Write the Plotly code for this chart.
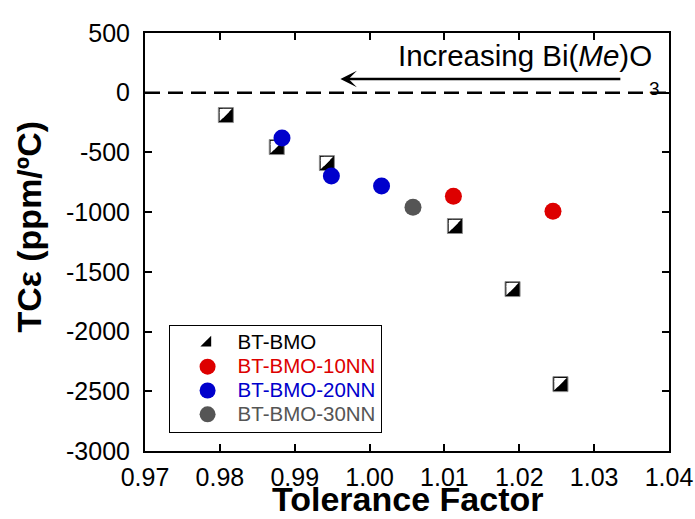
import plotly.graph_objects as go

# ---------------- data ----------------
TOL_BMO = [0.9808, 0.9876, 0.9943, 1.0114, 1.0191, 1.0255]
TCE_BMO = [-187, -455, -589, -1116, -1644, -2440]

TOL_10NN = [1.0112, 1.0245]
TCE_10NN = [-867, -993]

TOL_20NN = [0.9883, 0.9949, 1.0016]
TCE_20NN = [-379, -698, -781]

TOL_30NN = [1.0058]
TCE_30NN = [-959]

X_TICKS = [0.97, 0.98, 0.99, 1.00, 1.01, 1.02, 1.03, 1.04]
X_TICKTEXT = ["0.97", "0.98", "0.99", "1.00", "1.01", "1.02", "1.03", "1.04"]
Y_TICKS = [500, 0, -500, -1000, -1500, -2000, -2500, -3000]
Y_TICKTEXT = ["500", "0", "-500", "-1000", "-1500", "-2000", "-2500", "-3000"]

X_RANGE = [0.97, 1.04]
Y_RANGE = [-3000, 500]

ARROW_Y = 115
ARROW_TAIL_X = 1.0337
ARROW_TIP_X = 0.9961

FONT = "Liberation Sans, Arial, Helvetica, sans-serif"
RED = "#dd0000"
BLUE = "#0000cc"
GRAY = "#555555"

# ---- half-filled square marker geometry (px) ----
SQ_SIZE = 15                  # black square
H = 6.2                       # half side of the white (upper-left) half
TRI_R = H / 1.2               # plotly right-triangle "radius"
TRI_SIZE = 2 * TRI_R
TRI_SHIFT = 0.6 * TRI_R
CORNER_HALF = 0.3 * H
CORNER_SIZE = 2 * CORNER_HALF / (1.3 / 2 ** 0.5)
CORNER_SHIFT = 0.7 * H * 2 ** 0.5

fig = go.Figure()

# legend entry (black lower-right triangle); drawn first so the square hides it
fig.add_trace(go.Scatter(
    x=TOL_BMO, y=TCE_BMO, mode="markers",
    name='<span style="font-size:20.5px">BT-BMO</span>',
    marker=dict(symbol="triangle-se", size=12, color="black", line=dict(width=0)),
    hoverinfo="skip"))
# black square with thin grey border
fig.add_trace(go.Scatter(
    x=TOL_BMO, y=TCE_BMO, mode="markers", showlegend=False,
    marker=dict(symbol="square", size=SQ_SIZE, color="black",
                line=dict(width=1, color="#8c8c8c"))))
# white upper-left half: two shifted right triangles + one corner square
fig.add_trace(go.Scatter(
    x=TOL_BMO, y=TCE_BMO, mode="markers", showlegend=False, hoverinfo="skip",
    marker=dict(symbol="triangle-sw", size=TRI_SIZE, color="white", line=dict(width=0),
                angle=90, standoff=TRI_SHIFT)))
fig.add_trace(go.Scatter(
    x=TOL_BMO, y=TCE_BMO, mode="markers", showlegend=False, hoverinfo="skip",
    marker=dict(symbol="triangle-se", size=TRI_SIZE, color="white", line=dict(width=0),
                angle=180, standoff=TRI_SHIFT)))
fig.add_trace(go.Scatter(
    x=TOL_BMO, y=TCE_BMO, mode="markers", showlegend=False, hoverinfo="skip",
    marker=dict(symbol="diamond", size=CORNER_SIZE, color="white", line=dict(width=0),
                angle=135, standoff=CORNER_SHIFT)))

fig.add_trace(go.Scatter(
    x=TOL_10NN, y=TCE_10NN, mode="markers",
    name='<span style="font-size:20.5px;color:%s">BT-BMO-10NN</span>' % RED,
    marker=dict(symbol="circle", size=17, color=RED, line=dict(width=0))))
fig.add_trace(go.Scatter(
    x=TOL_20NN, y=TCE_20NN, mode="markers",
    name='<span style="font-size:20.5px;color:%s">BT-BMO-20NN</span>' % BLUE,
    marker=dict(symbol="circle", size=17, color=BLUE, line=dict(width=0))))
fig.add_trace(go.Scatter(
    x=TOL_30NN, y=TCE_30NN, mode="markers",
    name='<span style="font-size:20.5px;color:%s">BT-BMO-30NN</span>' % GRAY,
    marker=dict(symbol="circle", size=17, color=GRAY, line=dict(width=0))))

axis_common = dict(
    showline=True, linewidth=2, linecolor="black", mirror="ticks",
    ticks="inside", ticklen=7, tickwidth=1.5, tickcolor="black",
    showgrid=False, zeroline=False, automargin=False,
    tickfont=dict(family=FONT, size=25, color="black"),
)

fig.update_xaxes(range=X_RANGE, tickvals=X_TICKS, ticktext=X_TICKTEXT,
                 ticklabelstandoff=3, **axis_common)
fig.update_yaxes(range=Y_RANGE, tickvals=Y_TICKS, ticktext=Y_TICKTEXT,
                 ticklabelstandoff=8, **axis_common)

fig.add_shape(type="line", xref="paper", x0=0, x1=1, yref="y", y0=0, y1=0,
              line=dict(color="black", width=2.5, dash="15px,8px"))

fig.add_annotation(x=ARROW_TIP_X, y=ARROW_Y, ax=ARROW_TAIL_X, ay=ARROW_Y,
                   xref="x", yref="y", axref="x", ayref="y", text="",
                   showarrow=True, arrowhead=3, arrowsize=1.1, arrowwidth=2.5,
                   arrowcolor="black")
fig.add_annotation(x=0.971, y=0.945, xref="paper", yref="paper",
                   xanchor="right", yanchor="middle", showarrow=False,
                   text="Increasing Bi(<i>Me</i>)O",
                   font=dict(family=FONT, size=29.5, color="black"))
fig.add_annotation(x=0.9727, y=0.867, xref="paper", yref="paper",
                   xanchor="center", yanchor="middle", showarrow=False,
                   text="3", font=dict(family=FONT, size=19, color="black"))

# axis titles
fig.add_annotation(x=0.5, y=-0.1156, xref="paper", yref="paper",
                   xanchor="center", yanchor="middle", showarrow=False,
                   text="<b>Tolerance Factor</b>",
                   font=dict(family=FONT, size=34, color="black"))
fig.add_annotation(x=-0.222, y=0.536, xref="paper", yref="paper",
                   xanchor="center", yanchor="middle", showarrow=False, textangle=-90,
                   text="<b>TCε (ppm/ºC)</b>",
                   font=dict(family=FONT, size=34, color="black"))

fig.update_layout(
    width=695, height=519,
    margin=dict(l=145, r=26, t=33, b=68, autoexpand=False),
    paper_bgcolor="white", plot_bgcolor="white",
    font=dict(family=FONT, color="black"),
    showlegend=True,
    legend=dict(x=0.045, y=0.3014, xanchor="left", yanchor="top",
                bgcolor="white", bordercolor="black", borderwidth=1,
                font=dict(family=FONT, size=16, color="black"),
                itemwidth=50, indentation=8, tracegroupgap=0),
)

fig.write_html("out.html")
